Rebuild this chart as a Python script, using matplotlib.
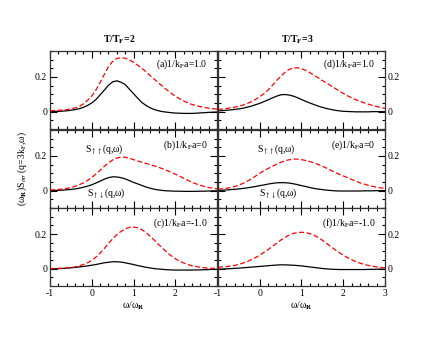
import matplotlib
matplotlib.use("Agg")
import matplotlib.pyplot as plt
from matplotlib.ticker import MultipleLocator

plt.rcParams['font.family'] = ['Liberation Serif', 'DejaVu Serif']
plt.rcParams['mathtext.fontset'] = 'stix'
plt.rcParams['axes.unicode_minus'] = False

# omega / omega_R
omega = [-1.0, -0.9, -0.8, -0.7, -0.6, -0.5, -0.4, -0.3, -0.2, -0.1,
         0.0, 0.1, 0.2, 0.3, 0.4, 0.5, 0.6, 0.7, 0.8, 0.9,
         1.0, 1.1, 1.2, 1.3, 1.4, 1.5, 1.6, 1.7, 1.8, 1.9,
         2.0, 2.1, 2.2, 2.3, 2.4, 2.5, 2.6, 2.7, 2.8, 2.9, 3.0]

# T/TF = 2   (uu = S_up,up red dashed, ud = S_up,down black)
uu_a = [0.005, 0.006, 0.008, 0.01, 0.012, 0.016, 0.022, 0.03, 0.045, 0.065,
        0.09, 0.125, 0.168, 0.215, 0.26, 0.29, 0.307, 0.312, 0.308, 0.298,
        0.285, 0.268, 0.25, 0.23, 0.208, 0.187, 0.166, 0.145, 0.125, 0.107,
        0.09, 0.075, 0.062, 0.051, 0.042, 0.035, 0.029, 0.024, 0.02, 0.017, 0.015]
ud_a = [0.0, 0.001, 0.002, 0.003, 0.005, 0.008, 0.012, 0.017, 0.025, 0.036,
        0.05, 0.07, 0.097, 0.124, 0.152, 0.172, 0.178, 0.17, 0.157, 0.13,
        0.104, 0.078, 0.053, 0.036, 0.022, 0.012, 0.005, 0.0, -0.003, -0.006,
        -0.008, -0.009, -0.01, -0.01, -0.01, -0.009, -0.007, -0.006, -0.004, -0.003, -0.002]
uu_b = [0.004, 0.005, 0.007, 0.01, 0.013, 0.018, 0.025, 0.034, 0.045, 0.059,
        0.076, 0.096, 0.118, 0.14, 0.16, 0.177, 0.188, 0.194, 0.193, 0.187,
        0.179, 0.171, 0.164, 0.157, 0.15, 0.143, 0.135, 0.126, 0.116, 0.106,
        0.095, 0.084, 0.072, 0.06, 0.049, 0.039, 0.031, 0.024, 0.018, 0.014, 0.01]
ud_b = [0.0, 0.001, 0.002, 0.003, 0.005, 0.007, 0.01, 0.014, 0.02, 0.026,
        0.034, 0.044, 0.055, 0.066, 0.075, 0.08, 0.079, 0.075, 0.068, 0.058,
        0.048, 0.039, 0.03, 0.021, 0.014, 0.008, 0.004, 0.001, -0.001, -0.002,
        -0.003, -0.003, -0.004, -0.004, -0.004, -0.004, -0.003, -0.003, -0.002, -0.001, -0.001]
uu_c = [0.0, 0.001, 0.002, 0.003, 0.005, 0.007, 0.01, 0.016, 0.024, 0.034,
        0.048, 0.067, 0.09, 0.116, 0.145, 0.172, 0.196, 0.215, 0.229, 0.238,
        0.24, 0.236, 0.225, 0.208, 0.187, 0.164, 0.14, 0.117, 0.095, 0.075,
        0.058, 0.044, 0.033, 0.024, 0.017, 0.012, 0.008, 0.005, 0.003, 0.002, 0.001]
ud_c = [-0.002, -0.001, 0.0, 0.001, 0.003, 0.005, 0.007, 0.01, 0.013, 0.016,
        0.02, 0.024, 0.029, 0.034, 0.037, 0.04, 0.04, 0.038, 0.034, 0.029,
        0.024, 0.018, 0.013, 0.008, 0.004, 0.0, -0.002, -0.004, -0.006, -0.007,
        -0.008, -0.008, -0.008, -0.008, -0.008, -0.007, -0.007, -0.006, -0.005, -0.004, -0.004]

# T/TF = 3
uu_d = [0.013, 0.015, 0.018, 0.022, 0.026, 0.032, 0.038, 0.047, 0.058, 0.071,
        0.086, 0.104, 0.125, 0.151, 0.178, 0.203, 0.226, 0.243, 0.252, 0.253,
        0.248, 0.238, 0.225, 0.21, 0.195, 0.18, 0.165, 0.15, 0.135, 0.12,
        0.105, 0.092, 0.08, 0.069, 0.06, 0.051, 0.043, 0.036, 0.03, 0.024, 0.019]
ud_d = [0.004, 0.006, 0.008, 0.01, 0.013, 0.016, 0.02, 0.026, 0.032, 0.04,
        0.048, 0.058, 0.068, 0.079, 0.089, 0.097, 0.099, 0.096, 0.09, 0.081,
        0.07, 0.06, 0.05, 0.041, 0.032, 0.025, 0.018, 0.013, 0.008, 0.005,
        0.002, 0.001, 0.0, -0.001, -0.001, -0.001, -0.001, 0.0, 0.0, 0.0, 0.0]
uu_e = [0.008, 0.011, 0.014, 0.018, 0.024, 0.032, 0.042, 0.054, 0.068, 0.084,
        0.10, 0.115, 0.128, 0.14, 0.152, 0.163, 0.172, 0.178, 0.182, 0.182,
        0.179, 0.174, 0.168, 0.16, 0.151, 0.141, 0.13, 0.118, 0.106, 0.095,
        0.085, 0.075, 0.065, 0.055, 0.045, 0.038, 0.031, 0.025, 0.02, 0.016, 0.013]
ud_e = [0.0, 0.002, 0.004, 0.006, 0.008, 0.01, 0.013, 0.016, 0.02, 0.024,
        0.029, 0.033, 0.038, 0.042, 0.045, 0.046, 0.046, 0.044, 0.04, 0.035,
        0.029, 0.024, 0.018, 0.013, 0.009, 0.006, 0.003, 0.001, -0.001, -0.002,
        -0.002, -0.002, -0.002, -0.002, -0.002, -0.001, -0.001, -0.001, 0.0, 0.0, 0.0]
uu_f = [0.008, 0.01, 0.012, 0.015, 0.019, 0.025, 0.032, 0.041, 0.052, 0.064,
        0.078, 0.094, 0.11, 0.128, 0.146, 0.164, 0.18, 0.193, 0.203, 0.208,
        0.21, 0.208, 0.202, 0.193, 0.18, 0.164, 0.146, 0.128, 0.11, 0.094,
        0.078, 0.064, 0.052, 0.041, 0.032, 0.025, 0.019, 0.014, 0.01, 0.007, 0.005]
ud_f = [-0.003, -0.002, -0.001, 0.0, 0.002, 0.003, 0.005, 0.007, 0.009, 0.011,
        0.013, 0.015, 0.017, 0.019, 0.021, 0.022, 0.022, 0.021, 0.02, 0.018,
        0.016, 0.013, 0.01, 0.007, 0.004, 0.001, -0.001, -0.003, -0.004, -0.005,
        -0.005, -0.005, -0.005, -0.005, -0.005, -0.005, -0.004, -0.004, -0.003, -0.003, -0.003]

panel_tags = ['(a)1/k$_\\mathrm{F}$a=1.0', '(b)1/k$_\\mathrm{F}$a=0', '(c)1/k$_\\mathrm{F}$a=-1.0',
              '(d)1/k$_\\mathrm{F}$a=1.0', '(e)1/k$_\\mathrm{F}$a=0', '(f)1/k$_\\mathrm{F}$a=-1.0']
col_titles = ['T/T$_\\mathbf{F}$=2', 'T/T$_\\mathbf{F}$=3']

fig = plt.figure(figsize=(4.36, 3.37), dpi=100)

lefts = [0.1147, 0.5]
width = 0.383
bottoms = [0.6172, 0.3828, 0.1513]
height = 0.2315

series = [[(uu_a, ud_a), (uu_b, ud_b), (uu_c, ud_c)],
          [(uu_d, ud_d), (uu_e, ud_e), (uu_f, ud_f)]]

fs = 7
for col in range(2):
    for row in range(3):
        ax = fig.add_axes([lefts[col], bottoms[row], width, height])
        uu, ud = series[col][row]
        ax.plot(omega, ud, color='black', lw=0.9)
        ax.plot(omega, uu, color='red', lw=0.9, ls=(0, (4, 2)))
        ax.set_xlim(-1, 3)
        ax.set_ylim(-0.1, 0.35)
        ax.xaxis.set_major_locator(MultipleLocator(1))
        ax.xaxis.set_minor_locator(MultipleLocator(0.2))
        ax.yaxis.set_major_locator(MultipleLocator(0.2))
        ax.yaxis.set_minor_locator(MultipleLocator(0.05))
        ax.tick_params(which='both', direction='in', top=True, bottom=True,
                       left=True, right=True, labelsize=fs, width=0.8)
        ax.tick_params(which='major', length=5, pad=2)
        ax.tick_params(which='minor', length=2.5)
        for sp in ax.spines.values():
            sp.set_linewidth(0.9)
            sp.set_color('#333333')
        ax.set_yticks([0, 0.2])
        ax.set_yticklabels(['0', '0.2'])
        if col == 1:
            ax.tick_params(labelleft=False, labelright=True)
        if row < 2:
            ax.tick_params(labelbottom=False)
        else:
            ticks = [-1, 0, 1, 2, 3]
            ax.set_xticks(ticks)
            if col == 0:
                ax.set_xticklabels(['-1', '0', '1', '2', ''])
            else:
                ax.set_xticklabels(['-1', '0', '1', '2', '3'])
            ax.set_xlabel('ω/ω$_\\mathbf{R}$', fontsize=fs, labelpad=1)
        tag_y = 0.275 if row == 0 else 0.26
        ax.text(2.77, tag_y, panel_tags[col * 3 + row], fontsize=fs,
                ha='right', va='center')
        if row == 1:
            sx = 0.31 if col == 0 else 0.40
            ax.text(sx, 0.24, 'S$_{\\uparrow\\uparrow}$(q,ω)', fontsize=fs,
                    ha='center', va='center')
            ax.text(sx + 0.05, -0.015, 'S$_{\\uparrow\\downarrow}$(q,ω)', fontsize=fs,
                    ha='center', va='center')

fig.text(119 / 436, 1 - 40 / 337, col_titles[0], fontsize=fs, fontweight='bold',
         ha='center', va='center')
fig.text(297 / 436, 1 - 40 / 337, col_titles[1], fontsize=fs, fontweight='bold',
         ha='center', va='center')
fig.text(22 / 436, 1 - 168 / 337,
         "(ω$_\\mathbf{R}$)S$_{σσ'}$(q=3k$_\\mathrm{F}$,ω)",
         fontsize=fs, rotation=90, ha='center', va='center')

fig.savefig('out.png', dpi=100)
